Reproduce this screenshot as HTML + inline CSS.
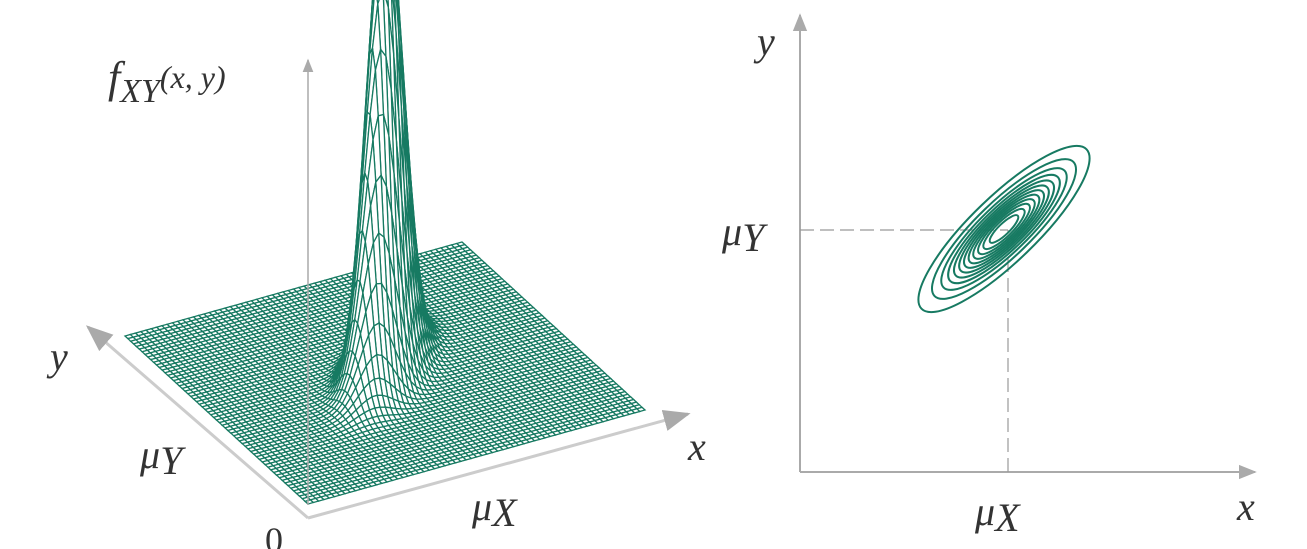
<!DOCTYPE html>
<html><head><meta charset="utf-8"><style>
html,body{margin:0;padding:0;background:#fff;width:1307px;height:549px;overflow:hidden}
svg text{font-family:"Liberation Serif",serif;font-style:italic;fill:#333}
</style></head><body>
<svg id="chart" width="1307" height="549" viewBox="0 0 1307 549" xmlns="http://www.w3.org/2000/svg">
<defs>
<marker id="arr" viewBox="0 0 10 10" refX="9" refY="5" markerWidth="9" markerHeight="9" orient="auto"><path d="M0,1 L10,5 L0,9 z" fill="#aaa"/></marker>
</defs>
<g id="left">
  <line x1="308" y1="518" x2="688" y2="414" stroke="#ccc" stroke-width="3" marker-end="url(#arr)"/>
  <line x1="308" y1="518" x2="88" y2="327" stroke="#ccc" stroke-width="3" marker-end="url(#arr)"/>
  <g id="surf"></g>
  <line x1="308" y1="505" x2="308" y2="60" stroke="#aaa" stroke-width="1.5" marker-end="url(#arr)"/>
  <text x="108" y="92" font-size="44">f<tspan font-size="34" dy="10">XY</tspan><tspan font-size="32" dy="-14">(x, y)</tspan></text>
  <text x="50" y="370" font-size="40">y</text>
  <text x="140" y="468" font-size="40">μ<tspan dy="6">Y</tspan></text>
  <text x="265" y="552" font-size="36" style="font-style:normal">0</text>
  <text x="472" y="520" font-size="40">μ<tspan dy="6">X</tspan></text>
  <text x="688" y="460" font-size="40">x</text>
</g>
<g id="right">
  <line x1="800" y1="472" x2="1255" y2="472" stroke="#aaa" stroke-width="2" marker-end="url(#arr)"/>
  <line x1="800" y1="472" x2="800" y2="15" stroke="#aaa" stroke-width="2" marker-end="url(#arr)"/>
  <line x1="800" y1="230" x2="1008" y2="230" stroke="#999" stroke-width="1.2" stroke-dasharray="14,6"/>
  <line x1="1008" y1="472" x2="1008" y2="230" stroke="#999" stroke-width="1.2" stroke-dasharray="14,6"/>
  <g id="cont"></g>
  <text x="757" y="55" font-size="40">y</text>
  <text x="722" y="245" font-size="40">μ<tspan dy="6">Y</tspan></text>
  <text x="975" y="525" font-size="40">μ<tspan dy="6">X</tspan></text>
  <text x="1237" y="520" font-size="40">x</text>
</g>
</svg>
<script>
const means = [0.5, 0.5];
const sigmas = [0.075, 0.075];
const rhos = [0.7];
const peakHeight = [480];
const contourLevels = [0.05,0.12,0.2,0.28,0.36,0.44,0.52,0.6,0.68,0.76,0.84,0.92];
const NS = 'http://www.w3.org/2000/svg';
const green = '#177a62';
var el;
function dens(u,v){
  const a=(u-means[0])/sigmas[0], b=(v-means[1])/sigmas[1], r=rhos[0];
  return Math.exp(-(a*a-2*r*a*b+b*b)/(2*(1-r*r)));
}
function proj(u,v,z){
  return [308+u*337+v*(-183), 504+u*(-94)+v*(-168)-z*peakHeight[0]];
}
const surf=document.getElementById('surf');
const N=64, quads=[];
for(let i=0;i<N;i++)for(let j=0;j<N;j++)quads.push([i,j]);
quads.sort((p,q)=>(q[0]+q[1])-(p[0]+p[1]));
let html='';
for(const [i,j] of quads){
  const pts=[[i,j],[i+1,j],[i+1,j+1],[i,j+1]].map(([a,b])=>{const u=a/N,v=b/N;return proj(u,v,dens(u,v)).map(n=>n.toFixed(1)).join(',');});
  html+='<polygon points="'+pts.join(' ')+'" fill="#fff" stroke="'+green+'" stroke-width="1.3"/>';
}
surf.innerHTML=html;
surf.querySelectorAll('polygon').forEach(p=>{
el=p;


});
const cont=document.getElementById('cont');
const cx=1004, cy=229, pxScale=82;
const r=rhos[0];
for(const L of contourLevels){
  const k=Math.sqrt(-2*Math.log(L));
  const major=k*pxScale*Math.sqrt(1+r)/Math.sqrt(2)*0.62;
  const minor=k*pxScale*Math.sqrt(1-r)/Math.sqrt(2)*0.42;
  const e=document.createElementNS(NS,'ellipse');
  e.setAttribute('cx',cx);e.setAttribute('cy',cy);
  e.setAttribute('rx',major);e.setAttribute('ry',minor);
  e.setAttribute('transform','rotate(-44 '+cx+' '+cy+')');
  e.setAttribute('fill','none');e.setAttribute('stroke',green);e.setAttribute('stroke-width','2');
  el=e;
  
  
  cont.appendChild(e);
}
</script>
</body></html>
